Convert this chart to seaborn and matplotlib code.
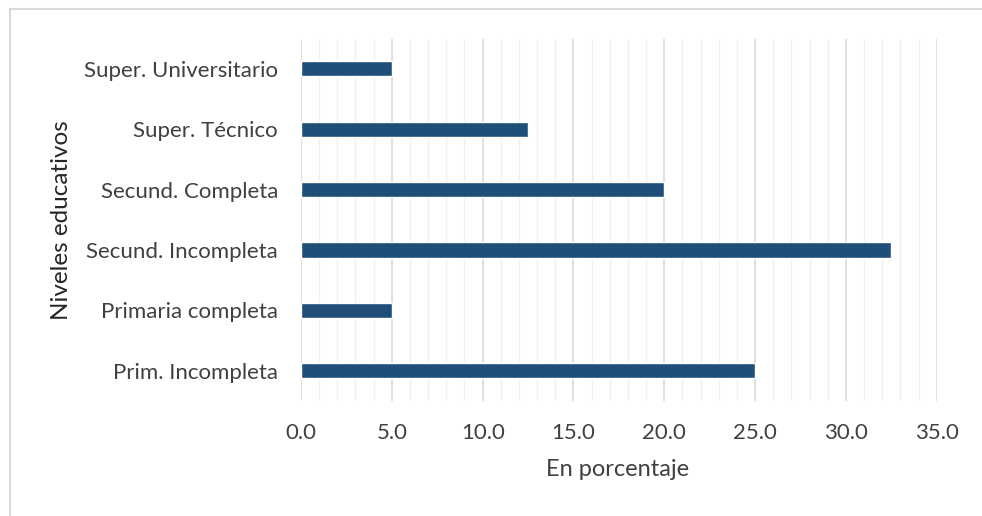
import pandas as pd
import matplotlib.pyplot as plt
import seaborn as sns
from matplotlib.lines import Line2D
from matplotlib.ticker import MultipleLocator, FormatStrFormatter

# Datos
niveles = ["Super. Universitario", "Super. Técnico", "Secund. Completa",
           "Secund. Incompleta", "Primaria completa", "Prim. Incompleta"]
porcentajes = [5.0, 12.5, 20.0, 32.5, 5.0, 25.0]

df = pd.DataFrame({"nivel": niveles, "pct": porcentajes})

sns.set_theme(style="white")
plt.rcParams["font.family"] = ["Lato", "DejaVu Sans"]

fig = plt.figure(figsize=(9.82, 5.16), dpi=100)
ax = fig.add_axes([0.3065, 0.223, 0.6475, 0.702])

sns.barplot(data=df, x="pct", y="nivel", orient="h", color="#1f4e79",
            width=0.25, saturation=1, ax=ax)

ax.set_xlim(0, 35)
ax.xaxis.set_major_locator(MultipleLocator(5))
ax.xaxis.set_minor_locator(MultipleLocator(1))
ax.xaxis.set_major_formatter(FormatStrFormatter("%.1f"))
ax.grid(axis="x", which="major", color="#d9d9d9", linewidth=1.2)
ax.grid(axis="x", which="minor", color="#f0f0f0", linewidth=1.0)
ax.set_axisbelow(True)
for s in ax.spines.values():
    s.set_visible(False)
ax.tick_params(axis="both", which="both", length=0, labelsize=16,
               labelcolor="#404040")
ax.tick_params(axis="x", pad=16)
ax.tick_params(axis="y", pad=16.5)

ax.set_xlabel("En porcentaje", fontsize=17, color="#404040")
ax.set_ylabel("Niveles educativos", fontsize=17.5, color="#262626")
ax.xaxis.set_label_coords(0.498, -0.19)
ax.yaxis.set_label_coords(-0.376, 0.5)
ax.xaxis.label.set_va("center")
ax.yaxis.label.set_va("center")

# marco del gráfico (solo borde superior e izquierdo visibles)
x0, y0 = 10 / 982, 1 - 9 / 516
fig.add_artist(Line2D([x0, 1], [y0, y0], transform=fig.transFigure,
                      color="#d9d9d9", linewidth=1.5))
fig.add_artist(Line2D([x0, x0], [0, y0], transform=fig.transFigure,
                      color="#d9d9d9", linewidth=1.5))

fig.savefig("out.png", dpi=100)
